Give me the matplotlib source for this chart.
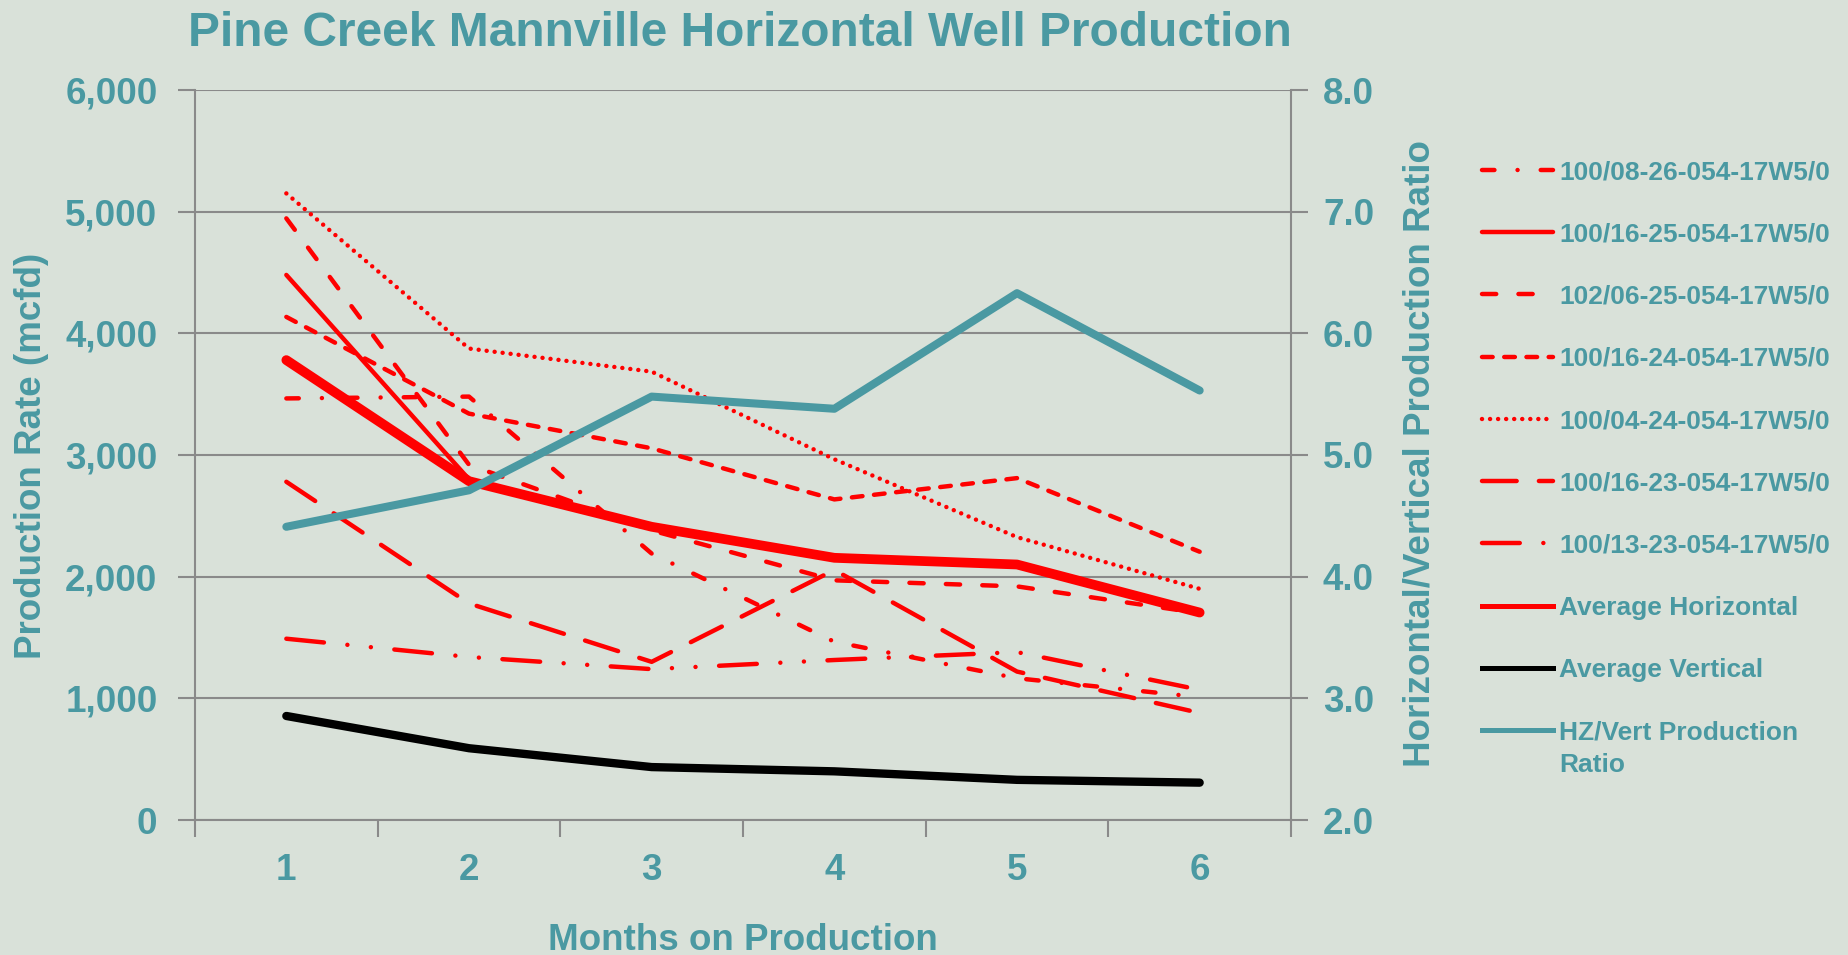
import matplotlib.pyplot as plt
import numpy as np
from matplotlib.lines import Line2D
from matplotlib.ticker import FuncFormatter, FixedLocator

# ---- data ----
months = [1, 2, 3, 4, 5, 6]

well_08_26 = [3465, 3480, 2190, 1465, 1165, 1010]
well_16_25 = [4480, 2800, np.nan, np.nan, np.nan, np.nan]
well_06_25 = [4945, 2920, 2380, 1970, 1920, 1700]
well_16_24 = [4135, 3340, 3055, 2635, 2810, 2205]
well_04_24 = [5150, 3875, 3685, 2965, 2325, 1900]
well_16_23 = [2780, 1780, 1300, 2055, 1220, 880]
well_13_23 = [1490, 1340, 1240, 1315, 1380, 1070]
avg_horizontal = [3780, 2785, 2410, 2155, 2100, 1705]
avg_vertical = [855, 590, 435, 400, 330, 307]
hz_vert_ratio = [4.41, 4.71, 5.48, 5.38, 6.33, 5.53]

well_names = ["100/08-26-054-17W5/0", "100/16-25-054-17W5/0", "102/06-25-054-17W5/0",
              "100/16-24-054-17W5/0", "100/04-24-054-17W5/0", "100/16-23-054-17W5/0",
              "100/13-23-054-17W5/0"]

BG = "#D9E1D9"
TEAL = "#4A99A2"
GRID = "#8A8A8A"
RED = "#FF0000"

plt.rcParams['font.family'] = ['Liberation Sans', 'DejaVu Sans']
plt.rcParams['font.weight'] = 'bold'

W, H = 1848, 955
fig = plt.figure(figsize=(W / 100, H / 100), dpi=100, facecolor=BG)
ax = fig.add_axes([195 / W, 1 - 820 / H, (1291 - 195) / W, (820 - 90) / H])
ax.set_facecolor(BG)
ax2 = ax.twinx()

thin = 3.2
# (values, dash pattern) -- patterns in linewidth units, round caps
styles = [
    (well_08_26, (0, (2.8, 5.2, 0.01, 5.2))),
    (well_16_25, '-'),
    (well_06_25, (0, (3.2, 5.0))),
    (well_16_24, (0, (2.4, 2.6))),
    (well_04_24, (0, (0.01, 1.8))),
    (well_16_23, (0, (7.8, 5.0))),
    (well_13_23, (0, (8.5, 5.3, 0.01, 5.3, 0.01, 5.3))),
]

handles = []
for (vals, ls), name in zip(styles, well_names):
    ax.plot(months, vals, color=RED, lw=thin, linestyle=ls,
            dash_capstyle='round', solid_capstyle='round', solid_joinstyle='miter')
    handles.append(Line2D([], [], color=RED, lw=thin, linestyle=ls,
                          dash_capstyle='round', solid_capstyle='round'))

ax.plot(months, avg_horizontal, color=RED, lw=7, solid_capstyle='round')
ax.plot(months, avg_vertical, color='black', lw=6, solid_capstyle='round')
ax2.plot(months, hz_vert_ratio, color=TEAL, lw=5.8, solid_capstyle='round')

handles.append(Line2D([], [], color=RED, lw=3.6))
handles.append(Line2D([], [], color='black', lw=3.6))
handles.append(Line2D([], [], color=TEAL, lw=3.6))
labels = well_names + ["Average Horizontal", "Average Vertical", "HZ/Vert Production"]

# axes limits / ticks
ax.set_xlim(0.5, 6.5)
ax.set_ylim(0, 6000)
ax2.set_ylim(2, 8)
ax.set_yticks(np.arange(0, 6001, 1000))
ax2.set_yticks(np.arange(2, 8.01, 1))
ax.yaxis.set_major_formatter(FuncFormatter(lambda v, p: f"{int(v):,}"))
ax2.yaxis.set_major_formatter(FuncFormatter(lambda v, p: f"{v:.1f}"))
ax.set_xticks(months)
ax.xaxis.set_minor_locator(FixedLocator(np.arange(0.5, 6.6, 1)))

ax.tick_params(axis='x', which='major', length=0, pad=24, labelsize=26.5, labelcolor=TEAL)
ax.tick_params(axis='x', which='minor', length=12, width=1.5, color=GRID, direction='out')
ax.tick_params(axis='y', length=12, width=1.5, color=GRID, pad=15, labelsize=26.5, labelcolor=TEAL)
ax2.tick_params(axis='y', length=12, width=1.5, color=GRID, pad=11, labelsize=26.5, labelcolor=TEAL)

ax.yaxis.grid(True, color=GRID, lw=1.5)
ax.set_axisbelow(True)
for a in (ax, ax2):
    a.spines['top'].set_visible(False)
    for s in a.spines.values():
        s.set_color(GRID)
        s.set_linewidth(1.5)
ax.spines['right'].set_visible(False)
ax2.spines['left'].set_visible(False)
ax2.spines['bottom'].set_visible(False)

# texts
fig.text(188 / W, 1 - 46 / H, "Pine Creek Mannville Horizontal Well Production",
         fontsize=34.5, color=TEAL, ha='left', va='baseline')
fig.text(743 / W, 1 - 950 / H, "Months on Production", fontsize=26.5, color=TEAL,
         ha='center', va='baseline')
fig.text(32 / W, 1 - 456 / H, "Production Rate (mcfd)", fontsize=26.5, color=TEAL,
         rotation=90, ha='center', va='center')
fig.text(1420 / W, 1 - 454 / H, "Horizontal/Vertical Production Ratio", fontsize=26.5,
         color=TEAL, rotation=90, ha='center', va='center')

leg = fig.legend(handles, labels, loc='upper left', bbox_to_anchor=(1482 / W, 1 - 160 / H),
                 frameon=False, fontsize=19, labelcolor=TEAL, handlelength=2.69,
                 handletextpad=0.23, labelspacing=1.45, borderpad=0, borderaxespad=0)

# second line of the last legend label, placed under the first line
fig.canvas.draw()
last = leg.get_texts()[-1]
bb = last.get_window_extent()
fig.text(bb.x0 / W, (bb.y0 - 33) / H, "Ratio", fontsize=19, color=TEAL,
         ha='left', va='bottom')

fig.savefig("out.png", dpi=100, facecolor=BG)
